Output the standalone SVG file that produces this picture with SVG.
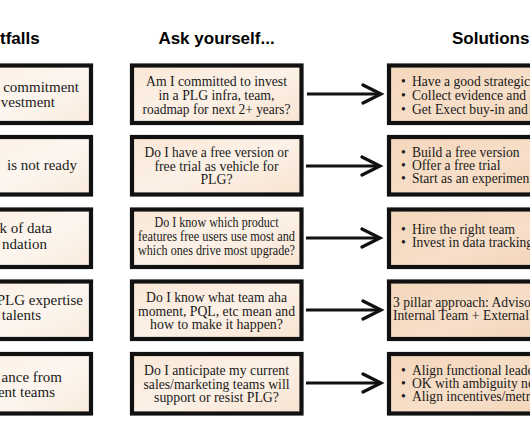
<svg xmlns="http://www.w3.org/2000/svg" width="530" height="442" viewBox="0 0 530 442">
<defs>
<linearGradient id="gL" x1="0" y1="0" x2="1" y2="1"><stop offset="0" stop-color="#fbefe3"/><stop offset="0.5" stop-color="#fdf6ef"/><stop offset="1" stop-color="#f9ebdd"/></linearGradient>
<linearGradient id="gM" x1="0" y1="0" x2="1" y2="1"><stop offset="0" stop-color="#f9e7d6"/><stop offset="0.5" stop-color="#fcf1e7"/><stop offset="1" stop-color="#f8e4d1"/></linearGradient>
<linearGradient id="gR" x1="0" y1="0" x2="1" y2="1"><stop offset="0" stop-color="#f4d6bb"/><stop offset="0.6" stop-color="#f7dfc9"/><stop offset="1" stop-color="#f2d3b7"/></linearGradient>
<marker id="chev" markerUnits="userSpaceOnUse" markerWidth="24" markerHeight="24" viewBox="-20 -12 24 24" refX="0" refY="0" orient="auto"><path d="M-18,-9 L0,0 L-18,9" fill="none" stroke="#111" stroke-width="3.2" stroke-linecap="round" stroke-linejoin="miter"/></marker>
</defs>
<style>
.box{stroke:#111;stroke-width:4.2;}
.l{fill:url(#gL);} .m{fill:url(#gM);} .r{fill:url(#gR);}
.h{font-family:"Liberation Sans",Arial,sans-serif;font-weight:bold;font-size:17px;fill:#000;}
.tl{font-family:"Liberation Serif","Times New Roman",serif;font-size:15px;fill:#1a1a1a;text-anchor:end;}
.tm{font-family:"Liberation Serif","Times New Roman",serif;font-size:13.8px;fill:#1a1a1a;text-anchor:middle;}
.tr{font-family:"Liberation Serif","Times New Roman",serif;font-size:13.6px;fill:#1a1a1a;}
.conn{stroke:#111;stroke-width:3;fill:none;marker-end:url(#chev);}
</style>
<rect width="530" height="442" fill="#ffffff"/>
<g id="headers">
<text class="h" x="0" y="44">tfalls</text>
<text class="h" x="216.5" y="44" text-anchor="middle">Ask yourself...</text>
<text class="h" x="452" y="44">Solutions</text>
</g>
<g id="pitfall1"><rect class="box l" x="-20" y="65.5" width="111" height="57.5"/>
<text class="tl"><tspan x="79" y="92">commitment</tspan><tspan x="55" y="107">vestment</tspan></text></g>
<g id="pitfall2"><rect class="box l" x="-20" y="137" width="111" height="57.5"/>
<text class="tl" x="77" y="170">is not ready</text></g>
<g id="pitfall3"><rect class="box l" x="-20" y="209.5" width="111" height="57.5"/>
<text class="tl"><tspan x="52" y="233">k of data</tspan><tspan x="47" y="248.5">ndation</tspan></text></g>
<g id="pitfall4"><rect class="box l" x="-20" y="281.5" width="111" height="57.5"/>
<text class="tl"><tspan x="83" y="305">PLG expertise</tspan><tspan x="41" y="320">talents</tspan></text></g>
<g id="pitfall5"><rect class="box l" x="-20" y="354" width="111" height="59.5"/>
<text class="tl"><tspan x="62" y="382">ance from</tspan><tspan x="55" y="397">ent teams</tspan></text></g>

<g id="ask1"><rect class="box m" x="132" y="65.5" width="169.5" height="57.5"/>
<text class="tm"><tspan x="216.5" y="86" textLength="141" lengthAdjust="spacingAndGlyphs">Am I committed to invest</tspan><tspan x="216.5" y="100" textLength="116" lengthAdjust="spacingAndGlyphs">in a PLG infra, team,</tspan><tspan x="216.5" y="114" textLength="148" lengthAdjust="spacingAndGlyphs">roadmap for next 2+ years?</tspan></text></g>
<g id="ask2"><rect class="box m" x="132" y="137" width="169.5" height="57.5"/>
<text class="tm"><tspan x="216.5" y="157" textLength="144" lengthAdjust="spacingAndGlyphs">Do I have a free version or</tspan><tspan x="216.5" y="170.5" textLength="124" lengthAdjust="spacingAndGlyphs">free trial as vehicle for</tspan><tspan x="216.5" y="184">PLG?</tspan></text></g>
<g id="ask3"><rect class="box m" x="132" y="209.5" width="169.5" height="57.5"/>
<text class="tm"><tspan x="216.5" y="227" textLength="124" lengthAdjust="spacingAndGlyphs">Do I know which product</tspan><tspan x="216.5" y="241" textLength="157" lengthAdjust="spacingAndGlyphs">features free users use most and</tspan><tspan x="216.5" y="255" textLength="157" lengthAdjust="spacingAndGlyphs">which ones drive most upgrade?</tspan></text></g>
<g id="ask4"><rect class="box m" x="132" y="281.5" width="169.5" height="57.5"/>
<text class="tm"><tspan x="216.5" y="302" textLength="141" lengthAdjust="spacingAndGlyphs">Do I know what team aha</tspan><tspan x="216.5" y="315.5" textLength="157" lengthAdjust="spacingAndGlyphs">moment, PQL, etc mean and</tspan><tspan x="216.5" y="328.5" textLength="133" lengthAdjust="spacingAndGlyphs">how to make it happen?</tspan></text></g>
<g id="ask5"><rect class="box m" x="132" y="354" width="169.5" height="59.5"/>
<text class="tm"><tspan x="216.5" y="375" textLength="145" lengthAdjust="spacingAndGlyphs">Do I anticipate my current</tspan><tspan x="216.5" y="388.5" textLength="146" lengthAdjust="spacingAndGlyphs">sales/marketing teams will</tspan><tspan x="216.5" y="401.5" textLength="125" lengthAdjust="spacingAndGlyphs">support or resist PLG?</tspan></text></g>

<g id="sol1"><rect class="box r" x="389" y="65.5" width="160" height="57.5"/>
<text class="tr"><tspan x="401" y="86">•</tspan><tspan x="412">Have a good strategic</tspan><tspan x="401" y="100">•</tspan><tspan x="412">Collect evidence and d</tspan><tspan x="401" y="113.5">•</tspan><tspan x="412">Get Exect buy-in and</tspan></text></g>
<g id="sol2"><rect class="box r" x="389" y="137" width="160" height="57.5"/>
<text class="tr"><tspan x="401" y="156.5">•</tspan><tspan x="412">Build a free version</tspan><tspan x="401" y="169.5">•</tspan><tspan x="412">Offer a free trial</tspan><tspan x="401" y="182.5">•</tspan><tspan x="412">Start as an experiment</tspan></text></g>
<g id="sol3"><rect class="box r" x="389" y="209.5" width="160" height="57.5"/>
<text class="tr"><tspan x="401" y="234">•</tspan><tspan x="412">Hire the right team</tspan><tspan x="401" y="247">•</tspan><tspan x="412">Invest in data tracking</tspan></text></g>
<g id="sol4"><rect class="box r" x="389" y="281.5" width="160" height="57.5"/>
<text class="tr"><tspan x="393" y="307">3 pillar approach: Advisor</tspan><tspan x="393" y="319.5">Internal Team + External</tspan></text></g>
<g id="sol5"><rect class="box r" x="389" y="354" width="160" height="59.5"/>
<text class="tr"><tspan x="401" y="375">•</tspan><tspan x="412">Align functional leade</tspan><tspan x="401" y="388">•</tspan><tspan x="412">OK with ambiguity ne</tspan><tspan x="401" y="401">•</tspan><tspan x="412">Align incentives/metr</tspan></text></g>

<g id="connectors">
<path class="conn" d="M307,94 H381"/>
<path class="conn" d="M306,166 H380"/>
<path class="conn" d="M306,238 H380"/>
<path class="conn" d="M306,310 H381"/>
<path class="conn" d="M306,383 H381"/>
</g>
</svg>
